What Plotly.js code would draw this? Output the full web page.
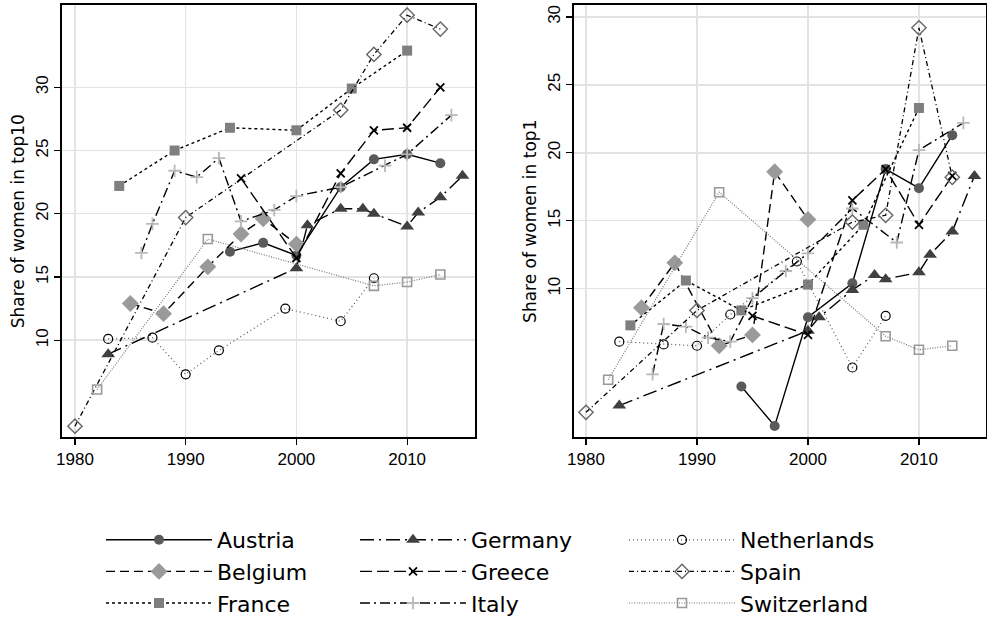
<!DOCTYPE html>
<html>
<head>
<meta charset="utf-8">
<script src="https://cdn.plot.ly/plotly-3.0.1.min.js"></script>
<style>html,body{margin:0;padding:0;background:#fff;}#chart{width:987px;height:624px;}</style>
</head>
<body>
<div id="chart"></div>
<script>
// ---- Data: share of women in top10 (left panel) ----
const austriaYears10 = [1994, 1997, 2000, 2004, 2007, 2010, 2013];
const austriaTop10   = [17.0, 17.7, 16.7, 22.1, 24.3, 24.7, 24.0];
const belgiumYears10 = [1985, 1988, 1992, 1995, 1997, 2000];
const belgiumTop10   = [12.9, 12.1, 15.8, 18.4, 19.6, 17.6];
const franceYears10  = [1984, 1989, 1994, 2000, 2005, 2010];
const franceTop10    = [22.2, 25.0, 26.8, 26.6, 29.9, 32.9];
const germanyYears10 = [1983, 2000, 2001, 2004, 2006, 2007, 2010, 2011, 2013, 2015];
const germanyTop10   = [8.9, 15.7, 19.1, 20.4, 20.4, 20.0, 19.0, 20.1, 21.3, 23.0];
const greeceYears10  = [1995, 2000, 2004, 2007, 2010, 2013];
const greeceTop10    = [22.8, 16.5, 23.2, 26.6, 26.8, 30.0];
const italyYears10   = [1986, 1987, 1989, 1991, 1993, 1995, 1998, 2000, 2004, 2008, 2010, 2014];
const italyTop10     = [16.9, 19.2, 23.4, 22.9, 24.4, 19.4, 20.3, 21.4, 22.1, 23.8, 24.7, 27.8];
const netherlandsYears10 = [1983, 1987, 1990, 1993, 1999, 2004, 2007];
const netherlandsTop10   = [10.1, 10.2, 7.3, 9.2, 12.5, 11.5, 14.9];
const spainYears10   = [1980, 1990, 2004, 2007, 2010, 2013];
const spainTop10     = [3.2, 19.7, 28.2, 32.6, 35.7, 34.6];
const switzerlandYears10 = [1982, 1992, 2007, 2010, 2013];
const switzerlandTop10   = [6.1, 18.0, 14.3, 14.6, 15.2];

// ---- Data: share of women in top1 (right panel) ----
const austriaYears1 = [1994, 1997, 2000, 2004, 2007, 2010, 2013];
const austriaTop1   = [2.8, -0.1, 7.9, 10.4, 18.8, 17.4, 21.3];
const belgiumYears1 = [1985, 1988, 1992, 1995, 1997, 2000];
const belgiumTop1   = [8.6, 11.9, 5.8, 6.6, 18.6, 15.1];
const franceYears1  = [1984, 1989, 1994, 2000, 2005, 2010];
const franceTop1    = [7.3, 10.6, 8.4, 10.3, 14.7, 23.3];
const germanyYears1 = [1983, 2000, 2001, 2004, 2006, 2007, 2010, 2011, 2013, 2015];
const germanyTop1   = [1.4, 6.9, 7.9, 9.9, 11.0, 10.7, 11.2, 12.5, 14.2, 18.3];
const greeceYears1  = [1995, 2000, 2004, 2007, 2010, 2013];
const greeceTop1    = [8.0, 6.6, 16.5, 18.8, 14.7, 18.3];
const italyYears1   = [1986, 1987, 1989, 1991, 1993, 1995, 1998, 2000, 2004, 2008, 2010, 2014];
const italyTop1     = [3.7, 7.4, 7.2, 6.4, 6.1, 9.3, 11.3, 12.6, 15.9, 13.4, 20.2, 22.2];
const netherlandsYears1 = [1983, 1987, 1990, 1993, 1999, 2004, 2007];
const netherlandsTop1   = [6.1, 5.9, 5.8, 8.1, 12.0, 4.2, 8.0];
const spainYears1   = [1980, 1990, 2004, 2007, 2010, 2013];
const spainTop1     = [0.9, 8.4, 14.9, 15.4, 29.2, 18.2];
const switzerlandYears1 = [1982, 1992, 2007, 2010, 2013];
const switzerlandTop1   = [3.3, 17.1, 6.5, 5.5, 5.8];

const countries = ['Austria','Belgium','France','Germany','Greece','Italy','Netherlands','Spain','Switzerland'];
const xTicks = [1980, 1990, 2000, 2010];
const yTicks = [10, 15, 20, 25, 30];

// ---- Styles ----
const styles = {
  Austria:     {line:{color:'#000', width:1.4, dash:'solid'},               marker:{symbol:'circle', size:10, color:'#5a5a5a'}, legend:'legend'},
  Belgium:     {line:{color:'#000', width:1.4, dash:'9px,5px'},             marker:{symbol:'diamond', size:13, color:'#9a9a9a'}, legend:'legend'},
  France:      {line:{color:'#000', width:1.4, dash:'3px,3px'},             marker:{symbol:'square', size:10, color:'#7f7f7f'}, legend:'legend'},
  Germany:     {line:{color:'#000', width:1.4, dash:'14px,5px,2px,5px'},    marker:{symbol:'triangle-up', size:12, color:'#404040'}, legend:'legend2'},
  Greece:      {line:{color:'#000', width:1.4, dash:'12px,5px'},            marker:{symbol:'x-thin', size:8, color:'#000', line:{width:1.8, color:'#000'}}, legend:'legend2'},
  Italy:       {line:{color:'#000', width:1.4, dash:'10px,4px,2px,4px'},    marker:{symbol:'cross-thin', size:9, color:'#b8b8b8', line:{width:1.8, color:'#b8b8b8'}}, legend:'legend2'},
  Netherlands: {line:{color:'#555', width:1.2, dash:'1px,3px'},             marker:{symbol:'circle-open', size:9, color:'#000', line:{width:1.2, color:'#000'}}, legend:'legend3'},
  Spain:       {line:{color:'#000', width:1.3, dash:'5px,3px,1px,3px'},     marker:{symbol:'diamond-open', size:11, color:'#666', line:{width:1.4, color:'#666'}}, legend:'legend3'},
  Switzerland: {line:{color:'#777', width:1.2, dash:'1px,1.5px'},           marker:{symbol:'square-open', size:9, color:'#999', line:{width:1.6, color:'#999'}}, legend:'legend3'}
};

const left = {
  Austria:[austriaYears10, austriaTop10], Belgium:[belgiumYears10, belgiumTop10], France:[franceYears10, franceTop10],
  Germany:[germanyYears10, germanyTop10], Greece:[greeceYears10, greeceTop10], Italy:[italyYears10, italyTop10],
  Netherlands:[netherlandsYears10, netherlandsTop10], Spain:[spainYears10, spainTop10], Switzerland:[switzerlandYears10, switzerlandTop10]
};
const right = {
  Austria:[austriaYears1, austriaTop1], Belgium:[belgiumYears1, belgiumTop1], France:[franceYears1, franceTop1],
  Germany:[germanyYears1, germanyTop1], Greece:[greeceYears1, greeceTop1], Italy:[italyYears1, italyTop1],
  Netherlands:[netherlandsYears1, netherlandsTop1], Spain:[spainYears1, spainTop1], Switzerland:[switzerlandYears1, switzerlandTop1]
};

const traces = [];
countries.forEach(c => {
  const s = styles[c];
  traces.push({type:'scatter', mode:'lines+markers', name:c, x:left[c][0], y:left[c][1],
    xaxis:'x', yaxis:'y', line:s.line, marker:s.marker, legend:s.legend, showlegend:true, cliponaxis:false});
});
countries.forEach(c => {
  const s = styles[c];
  traces.push({type:'scatter', mode:'lines+markers', name:c, x:right[c][0], y:right[c][1],
    xaxis:'x2', yaxis:'y2', line:s.line, marker:s.marker, showlegend:false, cliponaxis:false});
});

const W = 987, H = 624;
const px = v => v / W;
const py = v => 1 - v / H;

const tickFont = {family:'Liberation Sans, Arial, sans-serif', size:17, color:'#000'};
const axisCommon = {
  showline:true, linecolor:'#000', linewidth:1.6, mirror:true,
  ticks:'outside', ticklen:6, tickwidth:1.2, tickcolor:'#000',
  showgrid:true, gridcolor:'#e3e3e3', gridwidth:1.5, zeroline:false,
  tickfont:tickFont, automargin:false
};
const legendCommon = {
  orientation:'v', xanchor:'left', yanchor:'top', bgcolor:'rgba(0,0,0,0)',
  font:{family:'DejaVu Sans, sans-serif', size:22, color:'#000'},
  itemwidth:106, tracegroupgap:0, itemclick:false
};

const layout = {
  width:W, height:H,
  margin:{l:0, r:0, t:0, b:0},
  paper_bgcolor:'#fff', plot_bgcolor:'#fff',
  showlegend:true,
  xaxis: Object.assign({}, axisCommon, {domain:[px(62), px(475)], range:[1978.83, 2016.13], tickvals:xTicks, anchor:'y'}),
  yaxis: Object.assign({}, axisCommon, {domain:[py(441), py(5)], range:[2.31, 36.51], tickvals:yTicks, tickangle:-90, anchor:'x',
    title:{text:'Share of women in top10', font:{family:'DejaVu Sans, sans-serif', size:17, color:'#000'}, standoff:3}}),
  xaxis2: Object.assign({}, axisCommon, {domain:[px(574), px(986)], range:[1978.92, 2016.04], tickvals:xTicks, anchor:'y2'}),
  yaxis2: Object.assign({}, axisCommon, {domain:[py(441), py(5)], range:[-0.95, 30.88], tickvals:yTicks, tickangle:-90, anchor:'x2',
    title:{text:'Share of women in top1', font:{family:'DejaVu Sans, sans-serif', size:17, color:'#000'}, standoff:3}}),
  legend:  Object.assign({}, legendCommon, {x:px(101), y:py(523.5)}),
  legend2: Object.assign({}, legendCommon, {x:px(355), y:py(523.5)}),
  legend3: Object.assign({}, legendCommon, {x:px(624), y:py(523.5)})
};

Plotly.newPlot('chart', traces, layout, {displayModeBar:false, staticPlot:true});
</script>
</body>
</html>
